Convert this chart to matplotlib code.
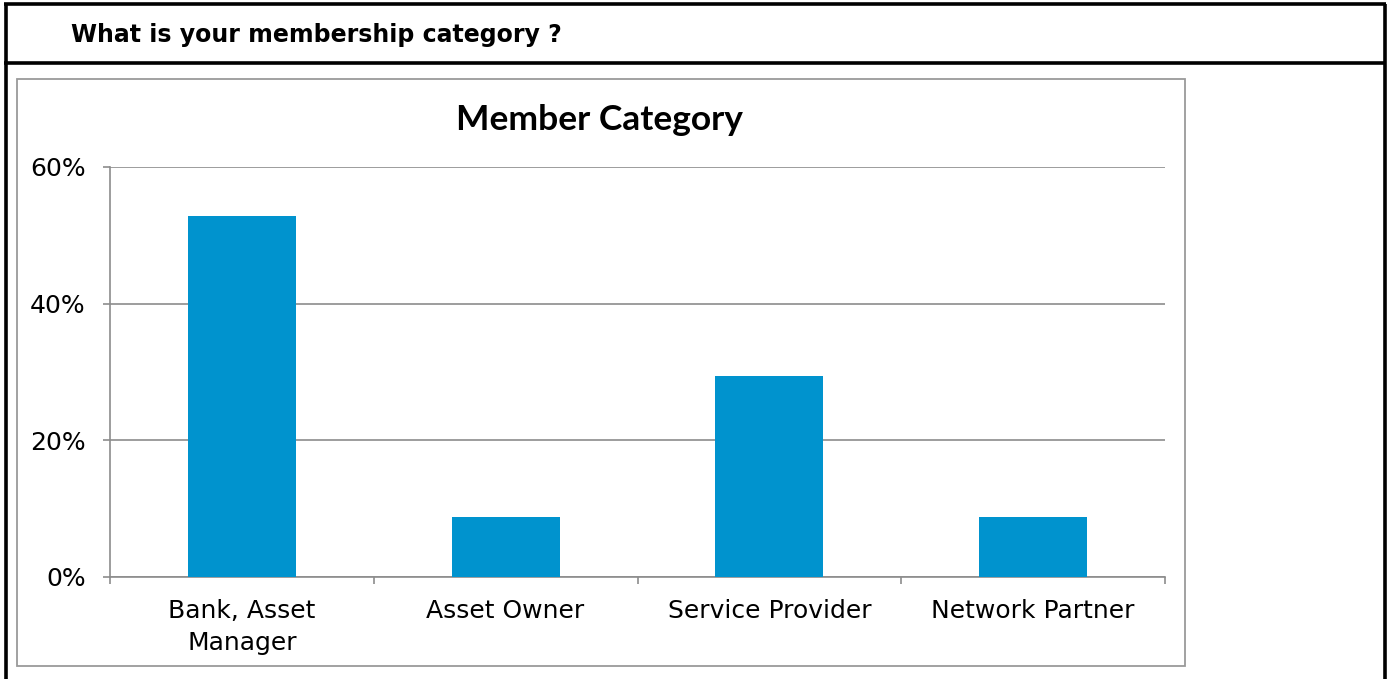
import matplotlib.pyplot as plt
from matplotlib.patches import Rectangle
from matplotlib.lines import Line2D
from matplotlib.ticker import PercentFormatter

# survey answers (share of respondents)
categories = ["Bank, Asset\nManager", "Asset Owner", "Service Provider", "Network Partner"]
shares = [52.9, 8.8, 29.4, 8.8]
y_ticks = [0, 20, 40, 60]

W, H = 1388, 679
fig = plt.figure(figsize=(W / 100, H / 100), dpi=100)

def fx(px):
    return px / W

def fy(py):
    return 1 - py / H

# outer black frame (no bottom edge) and header separator
for xs, ys in [((5.5, 5.5), (3.5, 679)), ((1384.5, 1384.5), (3.5, 679)),
               ((4, 1386), (3.5, 3.5)), ((4, 1386), (63, 63))]:
    fig.add_artist(Line2D([fx(x) for x in xs], [fy(y) for y in ys],
                          color="black", lw=2.6, solid_capstyle="butt"))

fig.text(fx(71), fy(42), "What is your membership category ?", fontsize=17,
         fontweight="bold", family="DejaVu Sans", va="baseline", ha="left")

# gray chart box
fig.add_artist(Rectangle((fx(17), fy(666)), fx(1185 - 17), (666 - 79) / H,
                         fill=False, edgecolor="#9a9a9a", lw=1.3))

fig.text(fx(599), fy(130), "Member Category", fontsize=25.5, fontweight="bold",
         family="Lato", ha="center", va="baseline")

ax = fig.add_axes([fx(110), fy(577), fx(1165 - 110), (577 - 167) / H])
ax.bar(range(len(categories)), shares, width=0.41, color="#0093CE", zorder=3)

ax.set_xlim(-0.5, len(categories) - 0.5)
ax.set_ylim(0, 60)
ax.set_yticks(y_ticks)
ax.yaxis.set_major_formatter(PercentFormatter(decimals=0))
ax.grid(axis="y", color="#8c8c8c", lw=1.2, zorder=0)

ax.set_xticks([i - 0.5 for i in range(len(categories) + 1)])
ax.set_xticklabels([])
ax.set_xticks(range(len(categories)), minor=True)
ax.set_xticklabels(categories, minor=True, fontsize=18, linespacing=1.43)
ax.tick_params(axis="x", which="minor", length=0, pad=16)
ax.tick_params(axis="x", which="major", length=5, width=1.2, color="#8c8c8c")
ax.tick_params(axis="y", length=5, width=1.2, color="#8c8c8c", labelsize=18, pad=12.5)

for side in ["top", "right"]:
    ax.spines[side].set_visible(False)
for side in ["left", "bottom"]:
    ax.spines[side].set_color("#8c8c8c")
    ax.spines[side].set_linewidth(1.2)

fig.savefig("out.png", dpi=100)
